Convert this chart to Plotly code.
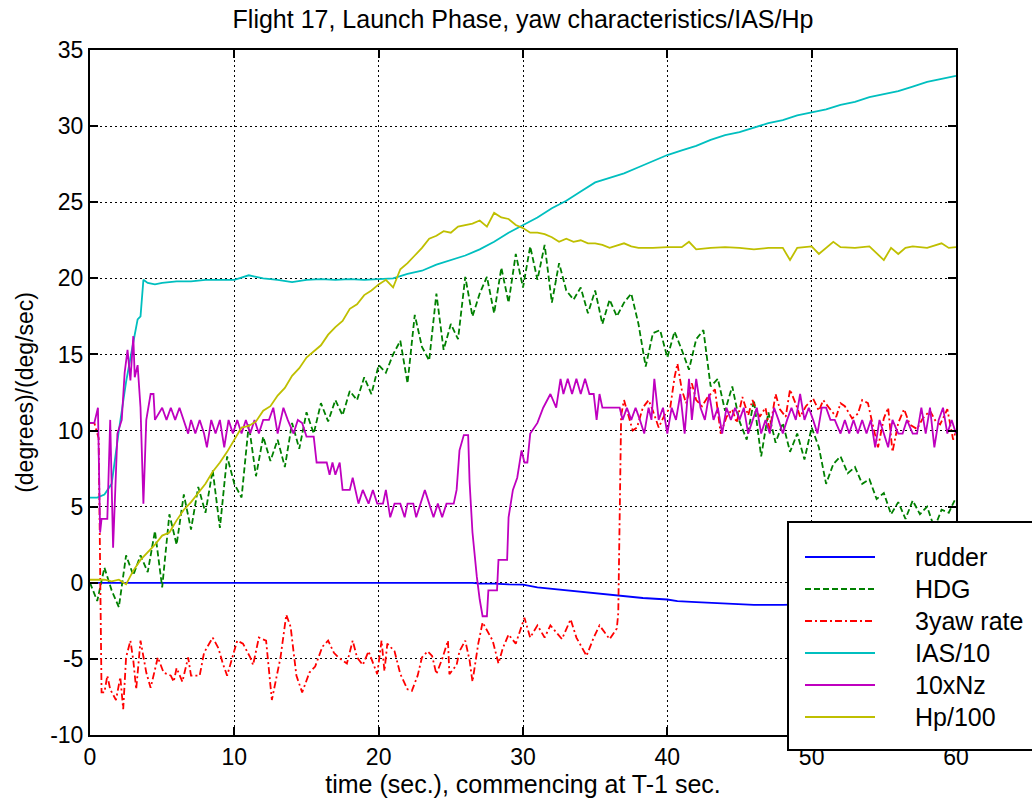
import plotly.graph_objects as go

# ---------------- data ----------------
rudder_t = [0, 26.5, 27.0, 28.0, 29.0, 30.0, 31.0, 32.0, 33.0, 34.5, 35.6, 36.5, 38.3, 40.0, 40.7, 42.0, 44.0, 46.0, 48.0, 50.0, 60.0]
rudder_v = [0, 0.0, -0.05, -0.05, -0.1, -0.12, -0.3, -0.4, -0.5, -0.65, -0.75, -0.85, -1.0, -1.1, -1.2, -1.27, -1.35, -1.45, -1.45, -1.4, -1.5]

hdg_t = [i * 0.5 for i in range(121)]
hdg_v = [0.0, -1.2, 1.0, -0.5, -1.6, 1.8, 0.5, 1.8, 0.7, 3.4,
         -0.3, 4.5, 2.5, 5.8, 3.5, 6.3, 4.6, 7.4, 3.6, 8.3,
         6.5, 5.6, 10.4, 7.0, 9.6, 8.0, 9.4, 7.6, 10.5, 8.8,
         11.2, 9.8, 11.8, 10.6, 12.0, 11.0, 12.6, 12.0, 13.5, 12.4,
         14.3, 13.8, 15.0, 15.9, 13.1, 17.6, 15.5, 14.6, 19.0, 15.3,
         17.0, 16.0, 20.1, 17.5, 19.0, 20.1, 17.7, 20.7, 18.4, 21.6,
         19.4, 22.1, 19.9, 22.2, 18.4, 21.0, 19.2, 18.6, 19.4, 17.7,
         19.2, 17.0, 18.6, 17.5, 18.4, 19.0, 17.0, 14.2, 16.4, 16.6,
         14.8, 16.5, 15.3, 14.0, 16.0, 16.6, 12.9, 13.4, 11.3, 12.9,
         10.6, 9.4, 12.0, 8.3, 11.2, 9.2, 10.5, 8.6, 9.8, 8.1,
         10.2, 8.9, 6.5, 7.8, 8.3, 7.2, 7.6, 6.5, 6.8, 5.5,
         5.9, 4.5, 5.3, 4.2, 5.4, 4.5, 5.0, 3.6, 4.8, 4.6,
         5.6]

yaw_t = [0, 0.3, 0.6, 0.8, 1.0, 1.2, 1.4, 1.8, 2.1, 2.3,
         2.5, 2.8, 3.0, 3.2, 3.5, 3.7, 3.9, 4.2, 4.4, 4.7,
         5.1, 5.6, 5.8, 6.0, 6.4, 6.8, 7.0, 7.6, 7.9, 8.5,
         8.9, 9.2, 9.5, 10.2, 10.6, 11.1, 11.3, 11.7, 12.2, 12.6,
         13.2, 13.6, 13.9, 14.3, 14.7, 15.2, 15.6, 16.1, 16.5, 16.9,
         17.2, 17.8, 18.2, 18.5, 18.9, 19.3, 19.9, 20.2, 20.4, 20.6,
         21.1, 21.5, 22.0, 22.3, 22.7, 23.0, 23.4, 23.7, 24.0, 24.4,
         24.8, 24.9, 25.4, 25.6, 26.0, 26.3, 26.5, 26.9, 27.2, 27.6,
         27.9, 28.3, 28.6, 29.0, 29.5, 30.1, 30.5, 31.0, 31.5, 31.9,
         32.7, 33.3, 33.7, 34.4, 34.9, 35.3, 36.0, 36.5, 36.6, 36.8,
         37.0, 37.3, 37.6, 37.9, 38.3, 38.7, 39.0, 39.4, 39.8, 40.2,
         40.5, 40.7, 41.0, 41.3, 41.7, 42.0, 42.4, 42.8, 43.3, 43.7,
         44.1, 44.5, 44.8, 45.2, 45.6, 45.9, 46.4, 46.8, 47.1, 47.5,
         47.8, 48.2, 48.5, 49.0, 49.2, 49.6, 50.1, 50.5, 50.8, 51.2,
         51.7, 52.0, 52.3, 52.8, 53.2, 53.5, 53.9, 54.2, 54.6, 55.0,
         55.3, 55.6, 56.0, 56.4, 56.8, 57.3, 57.7, 58.2, 58.6, 58.9,
         59.4, 59.8, 60.0]
yaw_v = [10.5, 10.5, 9.5, -7.2, -7.2, -6.1, -7.0, -7.7, -6.2, -8.3,
         -4.9, -3.8, -5.1, -7.0, -3.8, -4.9, -5.9, -6.9, -6.1, -4.9,
         -5.9, -6.1, -6.5, -5.6, -6.5, -4.9, -6.1, -6.1, -4.6, -3.6,
         -4.3, -5.3, -6.1, -3.8, -4.0, -4.9, -5.4, -3.6, -3.8, -7.7,
         -4.9, -2.1, -2.9, -6.1, -7.2, -5.9, -5.5, -4.2, -3.8, -4.6,
         -4.9, -5.3, -3.8, -4.9, -5.4, -4.5, -6.0, -3.8, -5.8, -4.0,
         -4.5, -6.0, -7.0, -7.1, -6.1, -4.9, -4.5, -4.8, -6.0, -5.0,
         -3.8, -6.0, -5.4, -4.5, -3.8, -5.1, -6.5, -4.0, -2.6, -3.3,
         -3.8, -5.3, -4.3, -3.4, -4.0, -2.3, -3.6, -2.8, -3.6, -2.8,
         -3.7, -2.4, -3.6, -4.8, -3.6, -2.8, -3.7, -3.0, -2.0, 11.0,
         12.0, 11.0, 10.0, 10.2, 11.5, 12.0, 11.3, 10.2, 11.0, 11.5,
         13.5, 14.4, 12.7, 11.8, 13.1, 12.0, 11.6, 12.2, 12.7, 9.8,
         10.9, 11.4, 10.5, 12.2, 11.0, 12.0, 10.9, 11.5, 10.0, 12.4,
         11.4, 10.9, 12.7, 11.5, 10.9, 11.6, 12.1, 11.3, 12.0, 11.5,
         10.9, 11.8, 11.6, 10.8, 11.1, 12.0, 11.8, 10.5, 8.9, 10.8,
         11.5, 8.6, 10.5, 11.4, 10.4, 10.1, 10.8, 11.3, 10.6, 10.4,
         11.4, 9.4, 10.0]

ias_t = [0, 0.5, 1.0, 1.5, 2.0, 2.5, 3.0, 3.3, 3.5, 3.7,
         4.0, 4.5, 5, 6, 7, 8, 9, 10, 11, 11.5,
         12, 13, 14, 15, 16, 17, 18, 19, 20, 21,
         22, 23, 24, 25, 26, 27, 28, 29, 30, 31,
         32, 33, 34, 35, 36, 37, 38, 39, 40, 41,
         42, 43, 44, 45, 46, 47, 48, 49, 50, 51,
         52, 53, 54, 55, 56, 57, 58, 59, 60]
ias_v = [5.6, 5.6, 5.8, 6.5, 10.0, 13.2, 15.8, 17.3, 17.5, 19.9,
         19.7, 19.6, 19.7, 19.8, 19.8, 19.9, 19.9, 19.9, 20.2, 20.1,
         20.0, 19.9, 19.75, 19.9, 19.95, 19.9, 19.95, 19.9, 19.95, 20.0,
         20.3, 20.5, 20.9, 21.2, 21.5, 21.9, 22.4, 23.0, 23.5, 24.0,
         24.6, 25.1, 25.7, 26.3, 26.6, 26.9, 27.3, 27.7, 28.1, 28.4,
         28.7, 29.1, 29.4, 29.6, 29.9, 30.2, 30.4, 30.7, 30.9, 31.1,
         31.4, 31.6, 31.9, 32.1, 32.3, 32.6, 32.9, 33.1, 33.3]

nz_t = [0, 0.3, 0.55, 0.7, 0.8, 1.2, 1.4, 1.6, 1.9, 2.2,
        2.4, 2.6, 2.8, 3.0, 3.1, 3.3, 3.5, 3.7, 3.9, 4.2,
        4.4, 4.5, 5.0, 5.3, 5.6, 5.9, 6.2, 6.5, 6.8, 7.0,
        7.3, 7.6, 7.9, 8.1, 8.4, 8.7, 9.0, 9.3, 9.6, 9.9,
        10.2, 10.5, 10.8, 11.1, 11.4, 11.7, 12.0, 12.4, 12.7, 13.0,
        13.4, 13.7, 14.1, 14.4, 14.7, 15.0, 15.5, 15.7, 16.1, 16.4,
        16.6, 16.8, 17.0, 17.3, 17.5, 18.0, 18.2, 18.4, 18.6, 18.9,
        19.3, 19.6, 19.9, 20.3, 20.5, 20.8, 21.1, 21.5, 21.8, 22.0,
        22.4, 22.6, 22.9, 23.2, 23.5, 23.8, 24.1, 24.4, 24.7, 25.2,
        25.4, 25.6, 25.9, 26.2, 26.3, 26.5, 26.8, 27.0, 27.2, 27.5,
        27.6, 28.2, 28.3, 28.9, 29.0, 29.3, 29.6, 29.9, 30.1, 30.3,
        30.5, 31.0, 31.4, 31.9, 32.3, 32.6, 32.8, 33.1, 33.4, 33.7,
        34.0, 34.3, 34.6, 34.9, 35.1, 35.3, 35.5, 36.0, 36.7, 36.9,
        37.2, 37.5, 37.8, 38.1, 38.4, 38.7, 38.9, 39.1, 39.4, 39.7,
        40.0, 40.3, 40.6, 40.9, 41.2, 41.5, 41.7, 42.0, 42.3, 42.6,
        42.9, 43.2, 43.5, 43.8, 44.1, 44.4, 44.7, 45.0, 45.3, 45.6,
        45.9, 46.2, 46.5, 46.8, 47.1, 47.4, 47.7, 48.0, 48.3, 48.6,
        48.9, 49.2, 49.5, 49.8, 50.1, 50.4, 50.7, 51.0, 51.3, 51.6,
        52.0, 52.3, 52.6, 52.9, 53.2, 53.5, 53.8, 54.1, 54.4, 54.7,
        55.0, 55.3, 55.6, 56.0, 56.3, 56.6, 57.0, 57.3, 57.6, 57.9,
        58.2, 58.5, 58.8, 59.1, 59.4, 59.7, 60.0]
nz_v = [10.5, 10.5, 11.5, 3.3, 4.2, 4.2, 10.7, 2.3, 9.8, 10.7,
        13.8, 15.3, 13.3, 16.2, 13.5, 14.3, 11.5, 5.2, 10.7, 12.4,
        12.4, 10.7, 11.5, 10.7, 11.5, 10.7, 11.5, 10.7, 9.8, 10.7,
        9.8, 10.7, 9.8, 8.9, 10.7, 9.8, 10.7, 8.9, 10.7, 9.8,
        10.7, 9.8, 10.7, 9.8, 10.7, 9.8, 10.7, 10.7, 11.5, 9.8,
        11.5, 10.7, 9.8, 10.7, 10.5, 9.6, 9.6, 7.9, 7.9, 7.9,
        7.1, 7.9, 7.1, 7.9, 6.1, 6.1, 6.9, 6.1, 5.2, 6.1,
        5.2, 6.1, 5.2, 5.2, 6.1, 4.3, 5.2, 5.2, 4.3, 5.2,
        5.2, 4.3, 5.2, 6.1, 5.2, 4.3, 5.2, 4.3, 5.2, 5.2,
        6.1, 8.7, 9.7, 9.7, 6.6, 3.3, 0.4, -1.1, -2.2, -2.2,
        -0.5, -0.5, 1.5, 1.5, 4.3, 6.1, 6.9, 8.7, 7.9, 7.9,
        9.8, 10.5, 11.5, 12.4, 11.5, 13.4, 12.4, 13.4, 12.4, 13.4,
        12.4, 13.4, 12.4, 12.4, 10.7, 12.4, 11.5, 11.5, 11.5, 10.7,
        11.5, 10.7, 11.5, 10.7, 9.8, 11.5, 10.7, 13.4, 10.7, 11.5,
        9.8, 11.5, 10.7, 12.4, 9.8, 13.4, 10.7, 13.4, 11.5, 10.7,
        12.4, 10.7, 11.5, 9.8, 11.5, 10.7, 11.5, 10.7, 11.5, 9.8,
        10.7, 11.5, 9.8, 10.7, 9.8, 11.5, 10.7, 9.8, 10.7, 11.5,
        10.7, 12.4, 10.7, 11.5, 10.7, 9.8, 11.5, 11.5, 10.7, 10.7,
        9.8, 10.7, 9.8, 10.7, 9.8, 10.7, 9.8, 10.7, 8.9, 10.7,
        9.8, 8.9, 10.7, 9.8, 9.8, 10.7, 9.8, 9.8, 11.5, 9.8,
        11.5, 8.9, 10.7, 11.5, 9.8, 10.7, 9.8]

hp_t = [0, 1, 1.5, 2, 2.5, 3, 3.5, 4, 4.5, 5,
        5.5, 6, 6.5, 7, 7.5, 8, 8.5, 9, 9.5, 10,
        10.5, 11, 11.5, 12, 12.5, 13, 13.5, 14, 14.5, 15,
        15.5, 16, 16.5, 17, 17.5, 18, 18.5, 19, 19.5, 20,
        20.5, 21, 21.5, 22, 22.5, 23, 23.5, 24, 24.5, 25,
        25.5, 26, 26.5, 27, 27.5, 28, 28.5, 29, 29.5, 30,
        30.5, 31, 31.5, 32, 32.5, 33, 33.5, 34, 34.5, 35,
        35.5, 36, 37, 37.5, 38, 39, 40, 41, 41.5, 42,
        43, 44, 45, 46, 47, 48, 48.5, 49, 50, 50.5,
        51, 51.5, 52, 53, 54, 55, 55.5, 56, 56.5, 57,
        58, 59, 59.5, 60]
hp_v = [0.2, 0.2, 0.1, 0.2, -0.1, 0.8, 1.5, 2.0, 2.5, 3.1,
        3.3, 4.1, 4.8, 5.3, 5.9, 6.5, 7.3, 7.9, 8.6, 9.4,
        10.2, 10.3, 10.6, 11.3, 11.6, 12.3, 12.8, 13.6, 14.1, 14.8,
        15.2, 15.6, 16.3, 16.8, 17.2, 18.0, 18.3, 18.9, 19.2, 19.6,
        19.9, 19.4, 20.6, 21.0, 21.5, 22.0, 22.6, 22.8, 23.1, 23.0,
        23.4, 23.5, 23.6, 23.8, 23.4, 24.3, 24.0, 23.9, 23.5, 23.3,
        23.0, 23.0, 22.9, 22.7, 22.4, 22.6, 22.4, 22.5, 22.3, 22.3,
        22.2, 22.0, 22.3, 22.1, 22.0, 22.0, 22.05, 22.05, 22.4, 21.9,
        22.0, 22.05, 22.0, 21.9, 22.0, 22.0, 21.2, 22.0, 22.1, 21.6,
        22.0, 22.4, 22.05, 22.0, 22.1, 21.2, 22.0, 21.6, 22.0, 22.1,
        22.0, 22.3, 22.0, 22.05]

for a, b in [(rudder_t, rudder_v), (hdg_t, hdg_v), (yaw_t, yaw_v),
             (ias_t, ias_v), (nz_t, nz_v), (hp_t, hp_v)]:
    assert len(a) == len(b), (len(a), len(b))

names = ["rudder", "HDG", "3yaw rate", "IAS/10", "10xNz", "Hp/100"]
colors = ["#0000FF", "#008000", "#FF0000", "#00BFBF", "#BF00BF", "#BFBF00"]
dashes = ["solid", "6px,3px", "7px,3px,2px,3px", "solid", "solid", "solid"]

x_ticks = [0, 10, 20, 30, 40, 50, 60]
y_ticks = [-10, -5, 0, 5, 10, 15, 20, 25, 30, 35]
y_ticktext = ["-10", "-5", "0", "5", "10", "15", "20", "25", "30", "35"]

FONT = "Liberation Sans, Arial, sans-serif"

fig = go.Figure()
series = [(rudder_t, rudder_v), (hdg_t, hdg_v), (yaw_t, yaw_v),
          (ias_t, ias_v), (nz_t, nz_v), (hp_t, hp_v)]
for (tt, vv), nm, col, ds in zip(series, names, colors, dashes):
    fig.add_trace(go.Scatter(x=tt, y=vv, mode="lines", name=nm,
                             line=dict(color=col, width=1.8, dash=ds),
                             showlegend=False))

W, H = 1032, 805
L, R, T, B = 90, 76, 50, 70
pw, ph = W - L - R, H - T - B


def px2paper(px, py):
    return (px - L) / pw, (H - B - py) / ph


# custom legend (MATLAB style box)
lx0, ly0 = px2paper(788, 750)
lx1, ly1 = px2paper(1060, 522)
shapes = [dict(type="rect", xref="paper", yref="paper", x0=lx0, y0=ly0, x1=lx1, y1=ly1,
               line=dict(color="black", width=2), fillcolor="white", layer="above")]
annotations = []
entry_y = [557, 589, 621, 653, 685, 717]
for nm, col, ds, ey in zip(names, colors, dashes, entry_y):
    xa, ya = px2paper(805, ey)
    xb, _ = px2paper(875, ey)
    shapes.append(dict(type="line", xref="paper", yref="paper", x0=xa, x1=xb, y0=ya, y1=ya,
                       line=dict(color=col, width=1.8, dash=ds), layer="above"))
    xt, _ = px2paper(913, ey)
    annotations.append(dict(xref="paper", yref="paper", x=xt, y=ya, text=nm, showarrow=False,
                            xanchor="left", yanchor="middle",
                            font=dict(family=FONT, size=25, color="black")))

fig.update_layout(
    width=W, height=H,
    margin=dict(l=L, r=R, t=T, b=B),
    paper_bgcolor="white", plot_bgcolor="white",
    font=dict(family=FONT, size=22, color="black"),
    title=dict(text="Flight 17, Launch Phase, yaw characteristics/IAS/Hp",
               x=(L + pw / 2) / W, xanchor="center", y=1 - 19 / H, yanchor="middle",
               font=dict(family=FONT, size=25, color="black")),
    shapes=shapes, annotations=annotations,
    showlegend=False,
)
fig.update_xaxes(range=[0, 60], tickvals=x_ticks, ticks="inside", ticklen=8, tickwidth=1.5,
                 tickcolor="black", showline=True, linecolor="black", linewidth=2, mirror="ticks",
                 showgrid=True, gridcolor="black", gridwidth=1, griddash="2px,3px",
                 zeroline=False, tickfont=dict(family=FONT, size=23),
                 title=dict(text="time (sec.), commencing at T-1 sec.", standoff=4,
                            font=dict(family=FONT, size=25)))
fig.update_yaxes(range=[-10, 35], tickvals=y_ticks, ticktext=y_ticktext, ticks="inside",
                 ticklen=8, tickwidth=1.5,
                 tickcolor="black", showline=True, linecolor="black", linewidth=2, mirror="ticks",
                 showgrid=True, gridcolor="black", gridwidth=1, griddash="2px,3px",
                 zeroline=False, tickfont=dict(family=FONT, size=23),
                 title=dict(text="(degrees)/(deg/sec)", standoff=10,
                            font=dict(family=FONT, size=23)))

fig.write_html("out.html")
